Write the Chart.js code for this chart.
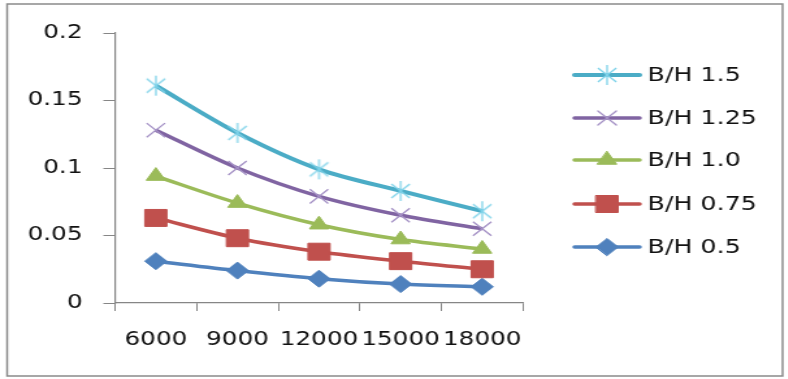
<!DOCTYPE html>
<html>
<head>
<meta charset="utf-8">
<script src="https://cdn.jsdelivr.net/npm/chart.js@4/dist/chart.umd.min.js"></script>
<style>
  html, body { margin: 0; padding: 0; background: #fff; overflow: hidden; }
  #wrap { width: 606px; height: 379px; transform: scaleX(1.3); transform-origin: 0 0; }
  canvas { display: block; }
</style>
</head>
<body>
<div id="wrap"><canvas id="c" width="606" height="379"></canvas></div>
<script>
// Categories (x axis) and series values
const categories = ['6000', '9000', '12000', '15000', '18000'];
const seriesNames = ['B/H 1.5', 'B/H 1.25', 'B/H 1.0', 'B/H 0.75', 'B/H 0.5'];
const bh150 = [0.161, 0.126, 0.099, 0.083, 0.068];
const bh125 = [0.128, 0.100, 0.079, 0.065, 0.055];
const bh100 = [0.094, 0.074, 0.058, 0.047, 0.040];
const bh075 = [0.063, 0.048, 0.038, 0.031, 0.025];
const bh050 = [0.031, 0.024, 0.018, 0.014, 0.012];
const yTickValues = [0, 0.05, 0.1, 0.15, 0.2];
const yTickLabels = ['0', '0.05', '0.1', '0.15', '0.2'];

const FONT = '"DejaVu Sans", Verdana, sans-serif';
const AXIS = '#868686';
const TEXT = '#111111';

// Asterisk marker: diagonal cross plus a vertical stroke
function asteriskMarker(color, r) {
  const size = Math.ceil(r * 2 + 2);
  const cv = document.createElement('canvas');
  cv.width = size; cv.height = size;
  const g = cv.getContext('2d');
  const c = size / 2, d = r * Math.SQRT1_2;
  g.strokeStyle = color;
  g.lineWidth = 1.3;
  g.beginPath();
  g.moveTo(c - d, c - d); g.lineTo(c + d, c + d);
  g.moveTo(c + d, c - d); g.lineTo(c - d, c + d);
  g.moveTo(c, c - r); g.lineTo(c, c + r);
  g.stroke();
  return cv;
}

function series(label, data, color, markerColor, style, radius, width) {
  return {
    label, data,
    borderColor: color,
    backgroundColor: markerColor,
    borderWidth: width,
    tension: 0.3,
    pointStyle: style,
    pointRadius: radius,
    pointHoverRadius: radius,
    pointBackgroundColor: markerColor,
    pointBorderColor: markerColor,
    pointBorderWidth: style === 'crossRot' ? 1.3 : 1
  };
}

const datasets = [
  series(seriesNames[0], bh150, '#4BACC6', '#7FD3EA', asteriskMarker('#7FD3EA', 10), 10, 4),
  series(seriesNames[1], bh125, '#8064A2', '#A592C6', 'crossRot', 10, 3.5),
  series(seriesNames[2], bh100, '#9BBB59', '#9BBB59', 'triangle', 8.5, 3.5),
  series(seriesNames[3], bh075, '#C0504D', '#C0504D', 'rect', 12, 3.5),
  series(seriesNames[4], bh050, '#4F81BD', '#4F81BD', 'rectRot', 8.5, 3.5)
];

// Frame + white background
const framePlugin = {
  id: 'frame',
  beforeDraw(chart) {
    const ctx = chart.ctx;
    ctx.save();
    ctx.fillStyle = '#fff';
    ctx.fillRect(0, 0, chart.width, chart.height);
    ctx.strokeStyle = '#8a8a8a';
    ctx.lineWidth = 1.5;
    ctx.strokeRect(5.5, 4, 596.5, 372);
    ctx.restore();
  }
};

// Legend on the right: line sample with marker, then label
const legendPlugin = {
  id: 'sideLegend',
  afterDraw(chart) {
    const ctx = chart.ctx;
    const rows = [75, 118, 160, 204, 247];
    const x0 = 442, x1 = 492, tx = 498;
    ctx.save();
    chart.data.datasets.forEach((ds, i) => {
      const y = rows[i];
      ctx.strokeStyle = ds.borderColor;
      ctx.lineWidth = ds.borderWidth;
      ctx.lineCap = 'round';
      ctx.beginPath();
      ctx.moveTo(x0, y);
      ctx.lineTo(x1, y);
      ctx.stroke();
      ctx.fillStyle = ds.pointBackgroundColor;
      ctx.strokeStyle = ds.pointBorderColor;
      ctx.lineWidth = ds.pointBorderWidth;
      Chart.helpers.drawPoint(ctx, {
        pointStyle: ds.pointStyle,
        radius: ds.pointRadius,
        rotation: 0,
        borderWidth: ds.pointBorderWidth
      }, (x0 + x1) / 2, y);
      ctx.fillStyle = TEXT;
      ctx.font = '19.5px ' + FONT;
      ctx.textAlign = 'left';
      ctx.textBaseline = 'middle';
      ctx.fillText(ds.label, tx, y + 1);
    });
    ctx.restore();
  }
};

new Chart(document.getElementById('c'), {
  type: 'line',
  data: { labels: categories, datasets },
  plugins: [framePlugin, legendPlugin],
  options: {
    responsive: false,
    animation: false,
    devicePixelRatio: 1,
    layout: { padding: { left: 0, right: 203.7, top: 33, bottom: 0 } },
    plugins: { legend: { display: false }, tooltip: { enabled: false } },
    scales: {
      x: {
        type: 'category',
        offset: true,
        grid: { offset: true, drawOnChartArea: false, drawTicks: true, tickLength: 8, color: AXIS, lineWidth: 1 },
        border: { display: true, color: AXIS, width: 1.2 },
        ticks: {
          autoSkip: false, maxRotation: 0, minRotation: 0, padding: 18,
          color: TEXT, font: { family: FONT, size: 19 }
        },
        afterFit(scale) { scale.height = 76; }
      },
      y: {
        min: 0, max: 0.2,
        afterBuildTicks(scale) { scale.ticks = yTickValues.map(v => ({ value: v })); },
        grid: { drawOnChartArea: false, drawTicks: true, tickLength: 9, color: AXIS, lineWidth: 1 },
        border: { display: true, color: AXIS, width: 1.2 },
        ticks: {
          padding: 16, color: TEXT, font: { family: FONT, size: 19 },
          callback(value) {
            const i = yTickValues.findIndex(v => Math.abs(v - value) < 1e-9);
            return i >= 0 ? yTickLabels[i] : '';
          }
        },
        afterFit(scale) { scale.width = 88.5; }
      }
    }
  }
});
</script>
</body>
</html>
